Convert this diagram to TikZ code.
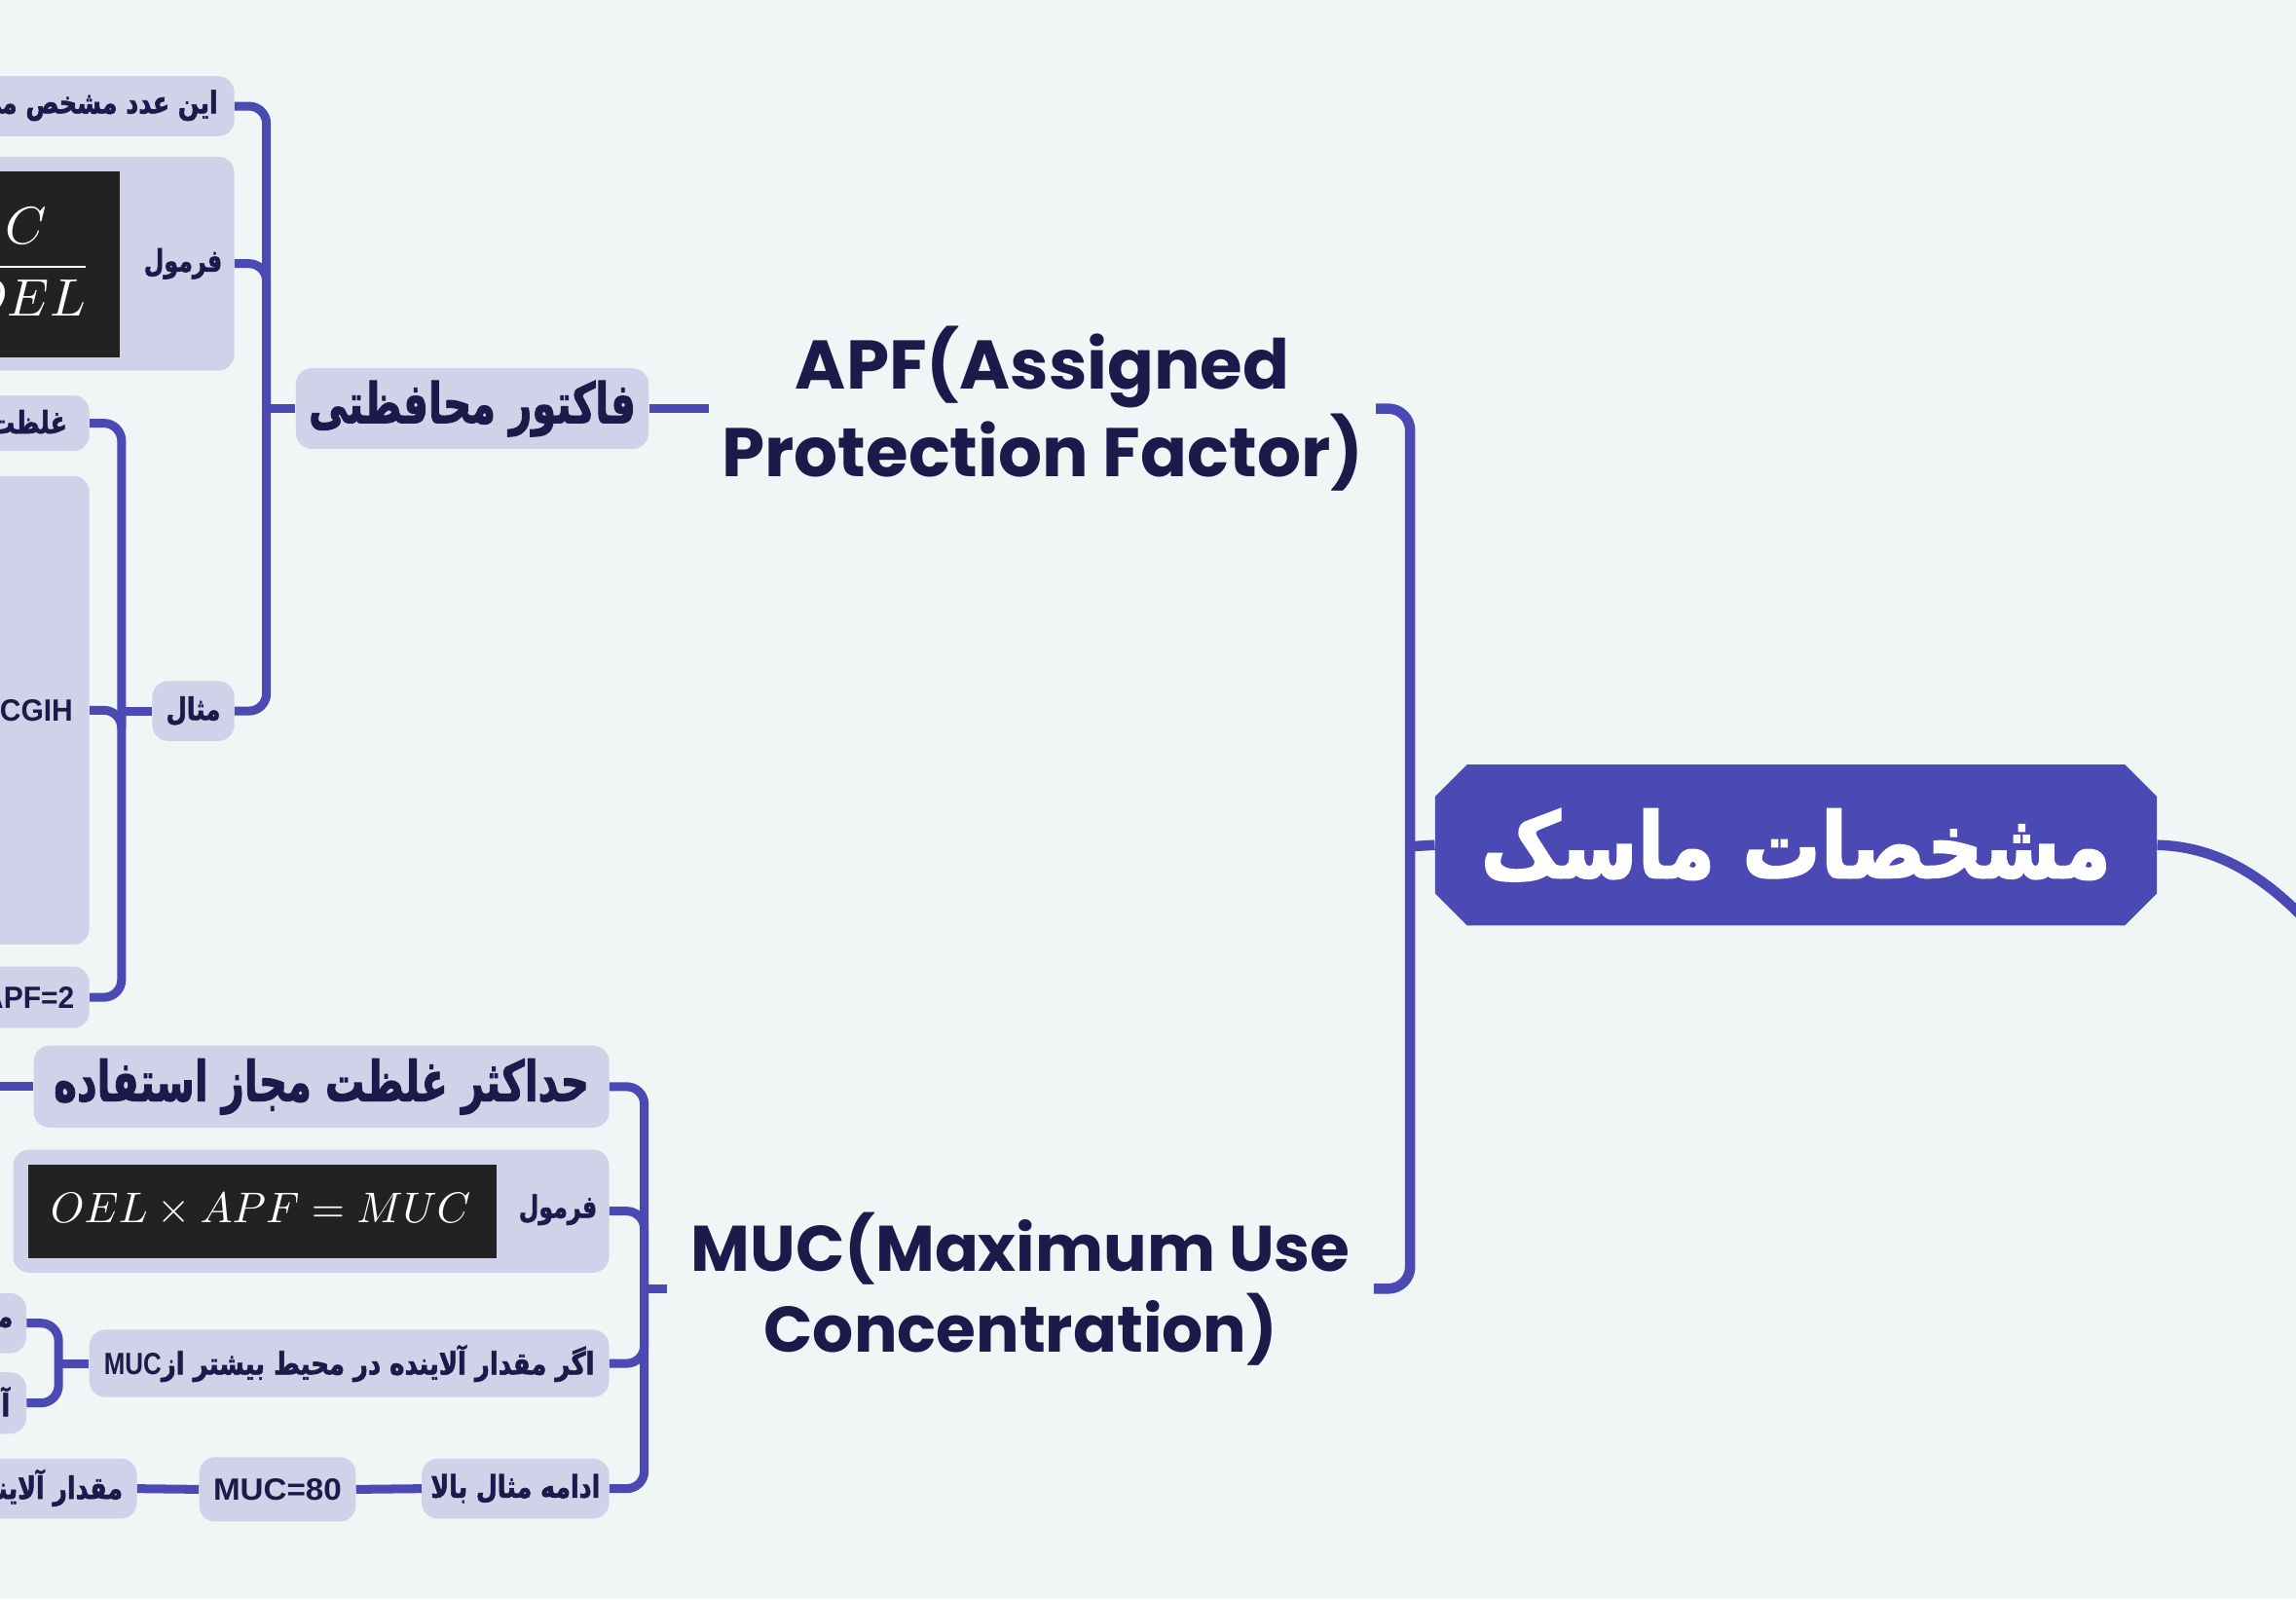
\documentclass[tikz,border=0pt]{standalone}
\usepackage{fontspec}
\usepackage{graphicx}
\usetikzlibrary{shapes.misc}
\TeXXeTstate=1
\newfontfamily\fa[Script=Arabic, BoldFeatures={FakeBold=2}]{DejaVu Sans}
\newfontfamily\pop{Poppins}
\newfontfamily\lat{Liberation Sans}
\newcommand\myR[1]{\beginR #1\endR}
\newcommand\sx[2]{\scalebox{#1}[1]{#2}}
\definecolor{bgc}{HTML}{F0F5F5}
\definecolor{linec}{HTML}{4B49B4}
\definecolor{boxc}{HTML}{CFD2E9}
\definecolor{navy}{HTML}{1D1A4B}
\definecolor{imgc}{HTML}{222222}
\begin{document}
\begin{tikzpicture}[x=1pt,y=1pt,
  conn/.style={draw=linec, line width=6pt, rounded corners=12pt},
  mconn/.style={draw=linec, line width=7pt, rounded corners=15pt},
  box/.style={fill=boxc, rounded corners=11pt, inner sep=0pt, draw=none, text=navy},
  img/.style={fill=imgc, inner sep=0pt, draw=none},
  ptxt/.style={font=\fa\bfseries\fontsize{21}{24}\selectfont, text=navy, inner sep=0pt},
  ptxtL/.style={font=\fa\bfseries\fontsize{38}{42}\selectfont, text=navy},
  ltxt/.style={font=\lat\bfseries\fontsize{21}{24}\selectfont, text=navy, inner sep=0pt},
  bigtxt/.style={font=\pop\bfseries\fontsize{47}{60}\selectfont, text=navy, align=center, inner sep=0pt},
  bigtxtb/.style={font=\pop\bfseries\fontsize{44}{55}\selectfont, text=navy, align=center, inner sep=0pt},
  mainbox/.style={chamfered rectangle, chamfered rectangle xsep=12pt, chamfered rectangle ysep=10pt,
    fill=linec, draw=none, text=white, inner sep=0pt,
    font=\fa\bfseries\fontsize{62}{66}\selectfont}
]
\useasboundingbox (0,0) rectangle (1568,-1092);
\clip (0,0) rectangle (1568,-1092);
\fill[bgc] (0,0) rectangle (1568,-1092);

% ---------- main node ----------
\node[mainbox, minimum width=493pt, minimum height=110pt] (main) at (1226.5,-577) {\sx{0.86}{\myR{مشخصات ماسک}}};
\coordinate (offr) at (1580,-634);
\draw[mconn] (main.east) .. controls (1512,-578) and (1545,-596) .. (offr);

% ---------- level 1 ----------
\node[bigtxt, minimum width=455pt] (apf) at (712,-279) {APF(Assigned\\Protection Factor)};
\node[bigtxtb, minimum width=482pt] (muc) at (697,-880) {MUC(Maximum Use\\Concentration)};
\coordinate (jm) at (963,-578);
\draw[mconn] (main.west) -- (jm);
\draw[mconn] (jm) |- (apf.east);
\draw[mconn] (jm) |- (muc.east);

% ---------- APF subtree ----------
\node[box, ptxtL, inner sep=0pt, minimum width=241pt, minimum height=55pt] (fak) at (322.5,-279) {\sx{0.705}{\myR{فاکتور محافظتی}}};
\draw[conn] (apf.west) -- (fak.east);
\coordinate (jf) at (182,-279);
\draw[conn] (fak.west) -- (jf);

\node[box, minimum width=360pt, minimum height=41pt] (een) at (-20,-72.5) {};
\node[ptxt, anchor=east] (eenT) at (149,-72) {\sx{0.8}{\myR{این عدد مشخص می}}};

\node[box, minimum width=360pt, minimum height=146pt] (form1) at (-20,-180) {};
\node[ptxt] (form1T) at (125,-180) {\sx{0.75}{\myR{فرمول}}};
\node[img, minimum width=232pt, minimum height=127pt] (img1) at (-34,-180.5) {};
\node[text=white, anchor=east, inner sep=0pt] (frac1) at (63,-179) {\scalebox{3.6}{$\displaystyle\frac{C}{OEL}$}};

\node[box, ptxt, minimum width=56pt, minimum height=41pt] (mesal) at (132,-485.5) {\sx{0.78}{\myR{مثال}}};

\draw[conn] (jf) |- (een.east);
\draw[conn] (jf) |- (form1.east);
\draw[conn] (jf) |- (mesal.east);

\coordinate (jmes) at (83,-485.5);
\draw[conn] (mesal.west) -- (jmes);
\node[box, minimum width=202pt, minimum height=38pt] (ghel) at (-40,-289) {};
\node[ptxt, anchor=east] (ghelT) at (46,-288) {\sx{0.8}{\myR{غلظت}}};
\node[box, minimum width=202pt, minimum height=320pt] (big) at (-40,-485) {};
\node[ltxt, anchor=east] (bigT) at (50,-485) {\sx{0.95}{ACGIH}};
\node[box, minimum width=202pt, minimum height=42pt] (apf2) at (-40,-681) {};
\node[ltxt, anchor=east] (apf2T) at (51,-681) {\sx{0.95}{APF=2}};
\draw[conn] (jmes) |- (ghel.east);
\draw[conn] (jmes) |- (big.east);
\draw[conn] (jmes) |- (apf2.east);

% ---------- MUC subtree ----------
\coordinate (jmuc) at (440,-880);
\draw[conn] (muc.west) -- (jmuc);

\node[box, ptxtL, inner sep=0pt, minimum width=393pt, minimum height=56pt] (had) at (219.5,-742) {\sx{0.705}{\myR{حداکثر غلظت مجاز استفاده}}};
\coordinate (offl) at (-10,-742);
\draw[conn] (had.west) -- (offl);

\node[box, minimum width=407pt, minimum height=84pt] (form2) at (212.5,-827) {};
\node[img, minimum width=320pt, minimum height=64pt] (img2) at (179,-827) {};
\node[text=white, inner sep=0pt] (math2) at (178,-826) {\scalebox{2.93}{$OEL\times APF=MUC$}};
\node[ptxt] (form2T) at (381,-826) {\sx{0.75}{\myR{فرمول}}};

\node[box, ptxt, minimum width=355pt, minimum height=46pt] (agar) at (238.5,-931) {\sx{0.82}{\myR{اگر مقدار آلاینده در محیط بیشتر از\beginL{\lat\bfseries MUC}\endL}}};

\node[box, ptxt, minimum width=128pt, minimum height=41pt] (edame) at (352,-1016.5) {\sx{0.8}{\myR{ادامه مثال بالا}}};

\draw[conn] (jmuc) |- (had.east);
\draw[conn] (jmuc) |- (form2.east);
\draw[conn] (jmuc) |- (agar.east);
\draw[conn] (jmuc) |- (edame.east);

\coordinate (jag) at (40,-931);
\draw[conn] (agar.west) -- (jag);
\node[box, minimum width=118pt, minimum height=41pt] (m1) at (-41,-903.5) {};
\node[ptxt, anchor=east] (m1T) at (9,-903) {\sx{0.8}{\myR{مـــ}}};
\node[box, minimum width=118pt, minimum height=42pt] (m2) at (-41,-958) {};
\node[ptxt, anchor=east] (m2T) at (7,-957) {\sx{0.8}{\myR{آ}}};
\draw[conn] (jag) |- (m1.east);
\draw[conn] (jag) |- (m2.east);

\node[box, ltxt, minimum width=107pt, minimum height=44pt] (muc80) at (189.5,-1017) {\sx{1.05}{MUC=80}};
\node[box, minimum width=207pt, minimum height=41pt] (meq) at (-10,-1016.5) {};
\node[ptxt, anchor=east] (meqT) at (84,-1016) {\sx{0.8}{\myR{مقدار آلاینده}}};
\draw[conn] (edame.west) -- (muc80.east);
\draw[conn] (muc80.west) -- (meq.east);
\end{tikzpicture}
\end{document}
